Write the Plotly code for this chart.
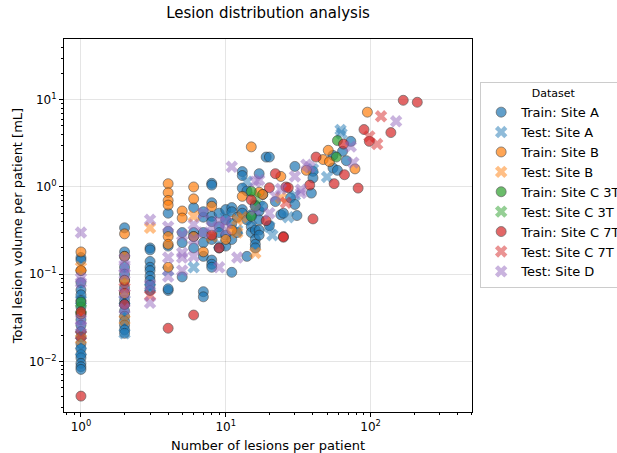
import numpy as np
import plotly.graph_objects as go

# ---------------- data ----------------
train_a_n = [1]*20 + [2]*16 + [3]*9 + [4]*5 + [5]*3 + [6]*4 + [7]*7 + [8]*9 + [9]*4 + [10]*4 + [11]*5 + [12]*2 + [13]*5 + [14]*3 + [15]*3 + [16]*5 + [17]*5 + [18]*2 + [19, 20, 20, 22, 24, 25, 28, 30, 30, 31, 39, 40, 40, 55, 55, 59, 64, 68, 73]
train_a_v = [0.155, 0.145, 0.11, 0.08, 0.066, 0.058, 0.05, 0.042, 0.035, 0.03, 0.026, 0.022, 0.019, 0.016, 0.014, 0.012, 0.011, 0.0095, 0.0087, 0.0081,
             0.34, 0.18, 0.16, 0.12, 0.1, 0.085, 0.07, 0.06, 0.05, 0.045, 0.038, 0.033, 0.029, 0.026, 0.023, 0.021,
             0.2, 0.19, 0.14, 0.12, 0.11, 0.095, 0.085, 0.075, 0.065,
             0.5, 0.31, 0.21, 0.065, 0.068,
             0.23, 0.093, 0.3,
             0.58, 0.3, 0.2, 0.27,
             0.45, 0.3, 0.23, 0.16, 0.063, 0.055, 0.52,
             1.1, 1.05, 0.66, 0.46, 0.4, 0.145, 0.13, 0.12, 0.25,
             0.5, 0.35, 0.2, 0.3,
             0.55, 0.42, 0.28, 0.21,
             0.58, 0.52, 0.38, 0.25, 0.105,
             0.45, 0.3,
             1.5, 1.35, 0.97, 0.55, 0.5,
             0.42, 0.16, 0.9,
             0.48, 0.35, 0.3,
             0.32, 0.25, 0.62, 0.22, 0.2,
             1.42, 0.53, 0.42, 0.32, 0.28,
             0.82, 0.6,
             2.2, 2.2, 0.36, 0.68, 0.48, 0.5, 0.75, 0.63, 1.72, 0.47, 0.85, 1.51, 1.27, 2.3, 1.65, 1.55, 2.56, 2.0, 3.33]

test_a_n = [1, 1, 1, 2, 2, 3, 4, 6, 8, 9, 10, 12, 14, 15, 17, 20, 21, 27, 30, 40, 50, 62, 63]
test_a_v = [0.05, 0.02, 0.013, 0.021, 0.05, 0.07, 0.11, 0.12, 0.28, 0.22, 0.45, 0.32, 1.15, 0.42, 0.6, 0.35, 0.28, 0.45, 0.8, 1.6, 1.3, 4.5, 4.1]

train_b_n = [1, 1, 1, 2, 2, 2, 2, 4, 4, 4, 4, 4, 4, 4, 5, 5, 6, 6, 6, 7, 8, 10, 11, 13, 15, 17, 18, 24, 36, 47, 51, 52, 78, 95]
train_b_v = [0.18, 0.035, 0.11, 0.29, 0.085, 0.16, 0.06, 1.09, 0.86, 0.7, 0.62, 0.27, 0.22, 0.12, 0.53, 0.44, 1.0, 0.73, 0.27, 0.18, 0.6, 0.25, 0.32, 0.78, 2.88, 0.87, 0.82, 1.32, 1.55, 2.06, 2.63, 1.95, 1.61, 7.2]

test_b_n = [1, 1, 2, 3, 6, 8, 12, 12, 13, 16, 24]
test_b_v = [0.12, 0.018, 0.03, 0.34, 0.46, 0.27, 0.42, 0.3, 0.45, 0.175, 0.75]

train_c3_n = [1, 15, 15, 16, 58, 59]
train_c3_v = [0.048, 0.89, 0.46, 0.6, 2.2, 3.4]

test_c3_n = [1, 16]
test_c3_v = [0.04, 0.75]

train_c7_n = [1, 1, 2, 4, 6, 8, 9, 15, 19, 20, 22, 25, 25, 26, 27, 38, 40, 42, 56, 65, 66, 82, 90, 98, 138, 168, 210]
train_c7_v = [0.004, 0.037, 0.045, 0.024, 0.034, 0.28, 0.2, 0.71, 0.41, 0.98, 1.42, 0.27, 0.265, 1.0, 0.98, 1.05, 0.43, 2.2, 1.09, 3.1, 1.38, 0.97, 4.55, 3.33, 4.2, 9.85, 9.35]

test_c7_n = [1, 2, 3, 26, 98, 111, 118]
test_c7_v = [0.02, 0.07, 0.057, 0.66, 3.8, 3.1, 6.45]

test_d_n = [1, 1, 1, 1, 1, 2, 2, 2, 2, 2, 3, 3, 3, 4, 4, 4, 5, 5, 5, 5, 6, 6, 6, 7, 7, 8, 9, 9, 10, 10, 11, 12, 16, 16, 17, 20, 22, 24, 30, 33, 33, 36, 38, 73, 76, 150]
test_d_v = [0.3, 0.09, 0.08, 0.03, 0.025, 0.15, 0.12, 0.1, 0.06, 0.04, 0.42, 0.075, 0.047, 0.35, 0.155, 0.094, 0.28, 0.175, 0.11, 0.155, 0.37, 0.16, 0.25, 0.5, 0.3, 0.35, 0.12, 0.4, 0.32, 0.4, 1.7, 0.155, 1.15, 0.55, 1.2, 0.5, 0.78, 0.95, 1.32, 0.85, 0.93, 1.8, 1.68, 2.9, 1.9, 5.65]

x_major = [1, 10, 100]
x_major_text = ["10<sup>0</sup>", "10<sup>1</sup>", "10<sup>2</sup>"]
y_major = [0.01, 0.1, 1, 10]
y_major_text = ["10<sup>−2</sup>", "10<sup>−1</sup>", "10<sup>0</sup>", "10<sup>1</sup>"]

# ---------------- figure ----------------
BLUE, ORANGE, GREEN, RED, PURPLE = "#1f77b4", "#ff7f0e", "#2ca02c", "#d62728", "#9467bd"

series = [
    ("Train: Site A", train_a_n, train_a_v, BLUE, "circle"),
    ("Test: Site A", test_a_n, test_a_v, BLUE, "x"),
    ("Train: Site B", train_b_n, train_b_v, ORANGE, "circle"),
    ("Test: Site B", test_b_n, test_b_v, ORANGE, "x"),
    ("Train: Site C 3T", train_c3_n, train_c3_v, GREEN, "circle"),
    ("Test: Site C 3T", test_c3_n, test_c3_v, GREEN, "x"),
    ("Train: Site C 7T", train_c7_n, train_c7_v, RED, "circle"),
    ("Test: Site C 7T", test_c7_n, test_c7_v, RED, "x"),
    ("Test: Site D", test_d_n, test_d_v, PURPLE, "x"),
]

fig = go.Figure()
for name, xs, ys, col, sym in series:
    if sym == "circle":
        marker = dict(symbol="circle", size=10, color=col, opacity=0.7,
                      line=dict(color="#222222", width=0.7))
    else:
        marker = dict(symbol="x", size=11, color=col, opacity=0.5,
                      line=dict(width=0))
    fig.add_trace(go.Scatter(x=xs, y=ys, mode="markers", name=name, marker=marker))

def minor_vals(lo, hi):
    out = []
    for e in range(lo, hi):
        for m in range(2, 10):
            out.append(m * 10.0 ** e)
    return out

font = "DejaVu Sans, Liberation Sans, sans-serif"
fig.update_layout(
    width=617, height=453,
    margin=dict(l=64, r=145, t=39, b=41, autoexpand=False),
    paper_bgcolor="white", plot_bgcolor="white",
    font=dict(family=font, size=12, color="#000000"),
    title=dict(text="Lesion distribution analysis", x=268 / 617, xanchor="center",
               y=1 - 13 / 453, yanchor="middle", font=dict(size=15)),
    legend=dict(title=dict(text="Dataset", side="top center", font=dict(size=11)),
                x=1.02, xanchor="left", y=0.885, yanchor="top",
                bordercolor="#cccccc", borderwidth=1, bgcolor="white",
                font=dict(size=13), itemsizing="trace", tracegroupgap=0),
    showlegend=True,
)
fig.update_xaxes(type="log", range=[-0.117, 2.70],
                 tickmode="array", tickvals=x_major, ticktext=x_major_text,
                 ticks="outside", ticklen=4, tickcolor="black",
                 showline=True, linecolor="black", linewidth=1, mirror=True,
                 showgrid=True, gridcolor="rgba(0,0,0,0.1)", zeroline=False,
                 minor=dict(tickmode="array", tickvals=minor_vals(-1, 3), ticks="outside",
                            ticklen=2, tickcolor="black", showgrid=False),
                 title=dict(text="Number of lesions per patient", font=dict(size=13), standoff=7))
fig.update_yaxes(type="log", range=[-2.58, 1.696],
                 tickmode="array", tickvals=y_major, ticktext=y_major_text,
                 ticks="outside", ticklen=4, tickcolor="black",
                 showline=True, linecolor="black", linewidth=1, mirror=True,
                 showgrid=True, gridcolor="rgba(0,0,0,0.1)", zeroline=False,
                 minor=dict(tickmode="array", tickvals=minor_vals(-3, 2), ticks="outside",
                            ticklen=2, tickcolor="black", showgrid=False),
                 title=dict(text="Total lesion volume per patient [mL]", font=dict(size=13), standoff=3))

fig.write_html("out.html")
